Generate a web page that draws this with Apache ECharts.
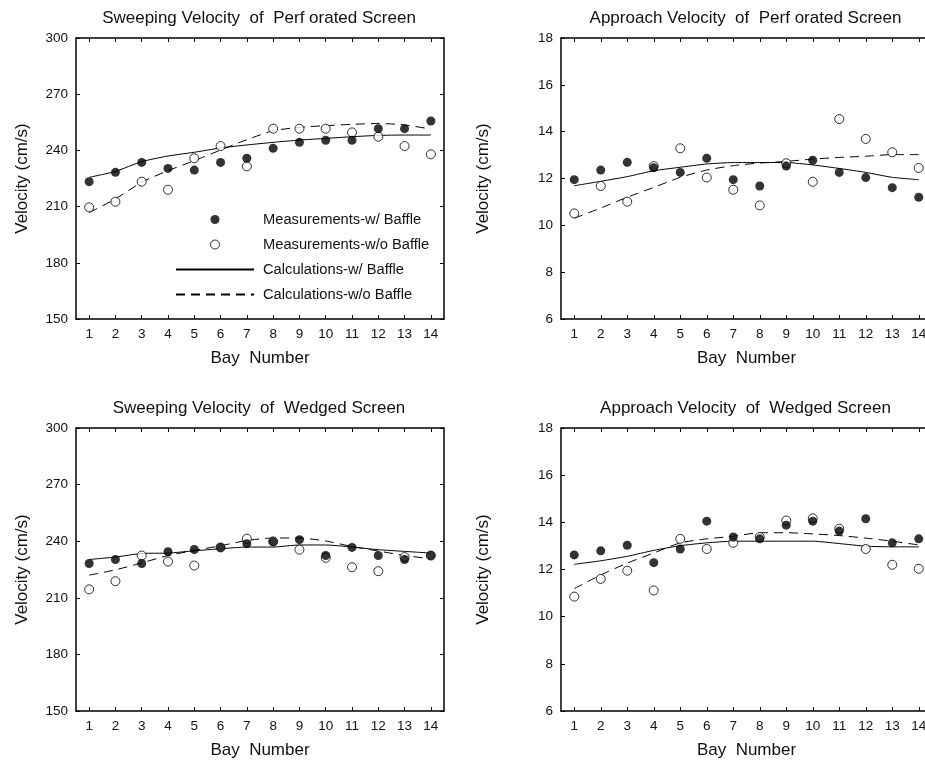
<!DOCTYPE html>
<html>
<head>
<meta charset="utf-8">
<script src="https://cdn.jsdelivr.net/npm/echarts@6/dist/echarts.min.js"></script>
<style>
  html, body { margin: 0; padding: 0; background: #fff; }
  #main { width: 925px; height: 761px; }
</style>
</head>
<body>
<div id="main"></div>
<script>
// bay numbers along the x axis
var bays = ["1", "2", "3", "4", "5", "6", "7", "8", "9", "10", "11", "12", "13", "14"];

// sweeping velocity, perforated screen (cm/s)
var sweepPerfMeasW = [223.3, 228.3, 233.6, 230.4, 229.5, 233.6, 235.8, 241.1, 244.3, 245.4, 245.4, 251.6, 251.6, 255.7];
var sweepPerfMeasWo = [209.6, 212.6, 223.3, 219.0, 235.8, 242.3, 231.5, 251.6, 251.6, 251.6, 249.6, 247.3, 242.3, 237.9];
var sweepPerfCalcW = [225.6, 228.8, 234.0, 237.0, 239.0, 241.3, 242.9, 244.3, 245.5, 246.4, 247.3, 248.0, 248.2, 248.2];
var sweepPerfCalcWo = [206.8, 214.1, 223.0, 229.2, 234.5, 240.2, 245.7, 250.5, 252.3, 253.2, 253.9, 254.4, 253.6, 251.4];

// approach velocity, perforated screen (cm/s)
var apprPerfMeasW = [11.95, 12.36, 12.69, 12.46, 12.26, 12.86, 11.95, 11.68, 12.53, 12.78, 12.26, 12.04, 11.61, 11.20];
var apprPerfMeasWo = [10.51, 11.68, 11.01, 12.53, 13.29, 12.04, 11.52, 10.85, 12.65, 11.86, 14.54, 13.69, 13.12, 12.45];
var apprPerfCalcW = [11.69, 11.88, 12.08, 12.33, 12.48, 12.62, 12.68, 12.68, 12.68, 12.58, 12.43, 12.26, 12.05, 11.95];
var apprPerfCalcWo = [10.30, 10.74, 11.20, 11.62, 12.05, 12.36, 12.55, 12.66, 12.73, 12.83, 12.90, 12.95, 13.02, 13.02];

// sweeping velocity, wedged screen (cm/s)
var sweepWedgMeasW = [228.2, 230.3, 228.2, 234.4, 235.6, 236.7, 238.7, 239.7, 240.8, 232.4, 236.7, 232.4, 230.3, 232.4];
var sweepWedgMeasWo = [214.5, 218.8, 232.4, 229.2, 227.1, 236.7, 241.3, 239.9, 235.5, 231.2, 226.2, 224.1, 231.6, 232.4];
var sweepWedgCalcW = [230.3, 231.6, 233.5, 233.7, 234.9, 236.0, 236.9, 236.9, 238.0, 238.0, 236.9, 235.5, 234.6, 233.7];
var sweepWedgCalcWo = [222.0, 224.8, 228.5, 232.4, 235.1, 237.6, 240.4, 241.7, 241.7, 240.1, 237.2, 234.8, 232.4, 230.7];

// approach velocity, wedged screen (cm/s)
var apprWedgMeasW = [12.62, 12.79, 13.03, 12.29, 12.87, 14.05, 13.38, 13.30, 13.88, 14.05, 13.63, 14.15, 13.13, 13.30];
var apprWedgMeasWo = [10.85, 11.60, 11.95, 11.11, 13.30, 12.87, 13.13, 13.38, 14.08, 14.17, 13.73, 12.87, 12.20, 12.03];
var apprWedgCalcW = [12.22, 12.37, 12.56, 12.81, 13.01, 13.13, 13.20, 13.20, 13.20, 13.20, 13.10, 12.99, 12.96, 12.96];
var apprWedgCalcWo = [11.19, 11.77, 12.27, 12.70, 13.13, 13.30, 13.41, 13.56, 13.56, 13.51, 13.44, 13.33, 13.20, 13.04];

var titles = [
  "Sweeping Velocity  of  Perf orated Screen",
  "Approach Velocity  of  Perf orated Screen",
  "Sweeping Velocity  of  Wedged Screen",
  "Approach Velocity  of  Wedged Screen"
];

var names = ["Measurements-w/ Baffle", "Measurements-w/o Baffle", "Calculations-w/ Baffle", "Calculations-w/o Baffle"];

var font = "Liberation Sans, Arial, sans-serif";

// panel layout
var panels = [
  { left: 76, top: 38, width: 368, height: 281, min: 150, max: 300, step: 30, nameGap: 45,
    data: [sweepPerfMeasW, sweepPerfMeasWo, sweepPerfCalcW, sweepPerfCalcWo] },
  { left: 561, top: 38, width: 371, height: 281, min: 6, max: 18, step: 2, nameGap: 69,
    data: [apprPerfMeasW, apprPerfMeasWo, apprPerfCalcW, apprPerfCalcWo] },
  { left: 76, top: 428, width: 368, height: 283, min: 150, max: 300, step: 30, nameGap: 45,
    data: [sweepWedgMeasW, sweepWedgMeasWo, sweepWedgCalcW, sweepWedgCalcWo] },
  { left: 561, top: 428, width: 371, height: 283, min: 6, max: 18, step: 2, nameGap: 69,
    data: [apprWedgMeasW, apprWedgMeasWo, apprWedgCalcW, apprWedgCalcWo] }
];

var axisLine = { show: true, onZero: false, lineStyle: { color: "#000", width: 1.5 } };
var tick = { show: true, inside: true, length: 4, lineStyle: { color: "#000", width: 1 } };

var grid = [], xAxis = [], yAxis = [], series = [], title = [];

panels.forEach(function (p, i) {
  grid.push({ left: p.left, top: p.top, width: p.width, height: p.height, containLabel: false, outerBoundsMode: "none" });
  title.push({
    text: titles[i],
    left: p.left + p.width / 2 - (i % 2 ? 6 : 6),
    top: p.top - 33,
    textAlign: "center",
    textStyle: { fontFamily: font, fontSize: 17, fontWeight: "normal", color: "#111" }
  });
  // bottom x axis
  xAxis.push({
    type: "category", gridIndex: i, data: bays, position: "bottom", boundaryGap: true,
    name: "Bay  Number", nameLocation: "middle", nameGap: 31,
    nameTextStyle: { fontFamily: font, fontSize: 17, color: "#111" },
    axisLine: axisLine,
    axisTick: Object.assign({ alignWithLabel: true, interval: 0 }, tick),
    axisLabel: { interval: 0, margin: 8, fontFamily: font, fontSize: 13.5, color: "#111" },
    splitLine: { show: false }
  });
  // top x axis (frame + ticks)
  xAxis.push({
    type: "category", gridIndex: i, data: bays, position: "top", boundaryGap: true,
    axisLine: axisLine,
    axisTick: Object.assign({ alignWithLabel: true, interval: 0 }, tick),
    axisLabel: { show: false }, splitLine: { show: false }
  });
  // left y axis
  yAxis.push({
    type: "value", gridIndex: i, position: "left", min: p.min, max: p.max, interval: p.step,
    name: "Velocity (cm/s)", nameLocation: "middle", nameGap: p.nameGap,
    nameTextStyle: { fontFamily: font, fontSize: 17, color: "#111" },
    axisLine: axisLine, axisTick: tick,
    axisLabel: { margin: 8, fontFamily: font, fontSize: 13.5, color: "#111" },
    splitLine: { show: false }
  });
  // right y axis (frame + ticks)
  yAxis.push({
    type: "value", gridIndex: i, position: "right", min: p.min, max: p.max, interval: p.step,
    axisLine: axisLine, axisTick: tick, axisLabel: { show: false }, splitLine: { show: false }
  });

  var xi = i * 2, yi = i * 2;
  series.push({
    name: names[2], type: "line", xAxisIndex: xi, yAxisIndex: yi, data: p.data[2],
    symbol: "none", smooth: 0.2, color: "#000", lineStyle: { color: "#000", width: 1 }, z: 2
  });
  series.push({
    name: names[3], type: "line", xAxisIndex: xi, yAxisIndex: yi, data: p.data[3],
    symbol: "none", smooth: 0.2, color: "#000", lineStyle: { color: "#000", width: 1, type: [9, 6] }, z: 2
  });
  series.push({
    name: names[1], type: "scatter", xAxisIndex: xi, yAxisIndex: yi, data: p.data[1],
    symbol: "circle", symbolSize: 9, itemStyle: { color: "#fff", borderColor: "#000", borderWidth: 1 }, z: 3
  });
  series.push({
    name: names[0], type: "scatter", xAxisIndex: xi, yAxisIndex: yi, data: p.data[0],
    symbol: "circle", symbolSize: 9, itemStyle: { color: "#000" }, z: 4
  });
});

var hidden = { color: "transparent", borderColor: "transparent", borderWidth: 0, opacity: 0 };

var chart = echarts.init(document.getElementById("main"));
chart.setOption({
  animation: false,
  backgroundColor: "#fff",
  title: title,
  grid: grid,
  xAxis: xAxis,
  yAxis: yAxis,
  legend: {
    data: [
      { name: names[0], itemStyle: { color: "#000", borderWidth: 0 } },
      { name: names[1], itemStyle: { color: "#fff", borderColor: "#000", borderWidth: 1 } },
      { name: names[2], itemStyle: hidden },
      { name: names[3], itemStyle: hidden }
    ],
    orient: "vertical",
    left: 175, top: 212,
    padding: 0,
    itemWidth: 78, itemHeight: 9, itemGap: 10,
    textStyle: { fontFamily: font, fontSize: 14.7, color: "#111", padding: [0, 0, 0, 4] },
    selectedMode: false
  },
  series: series
});
</script>
</body>
</html>
